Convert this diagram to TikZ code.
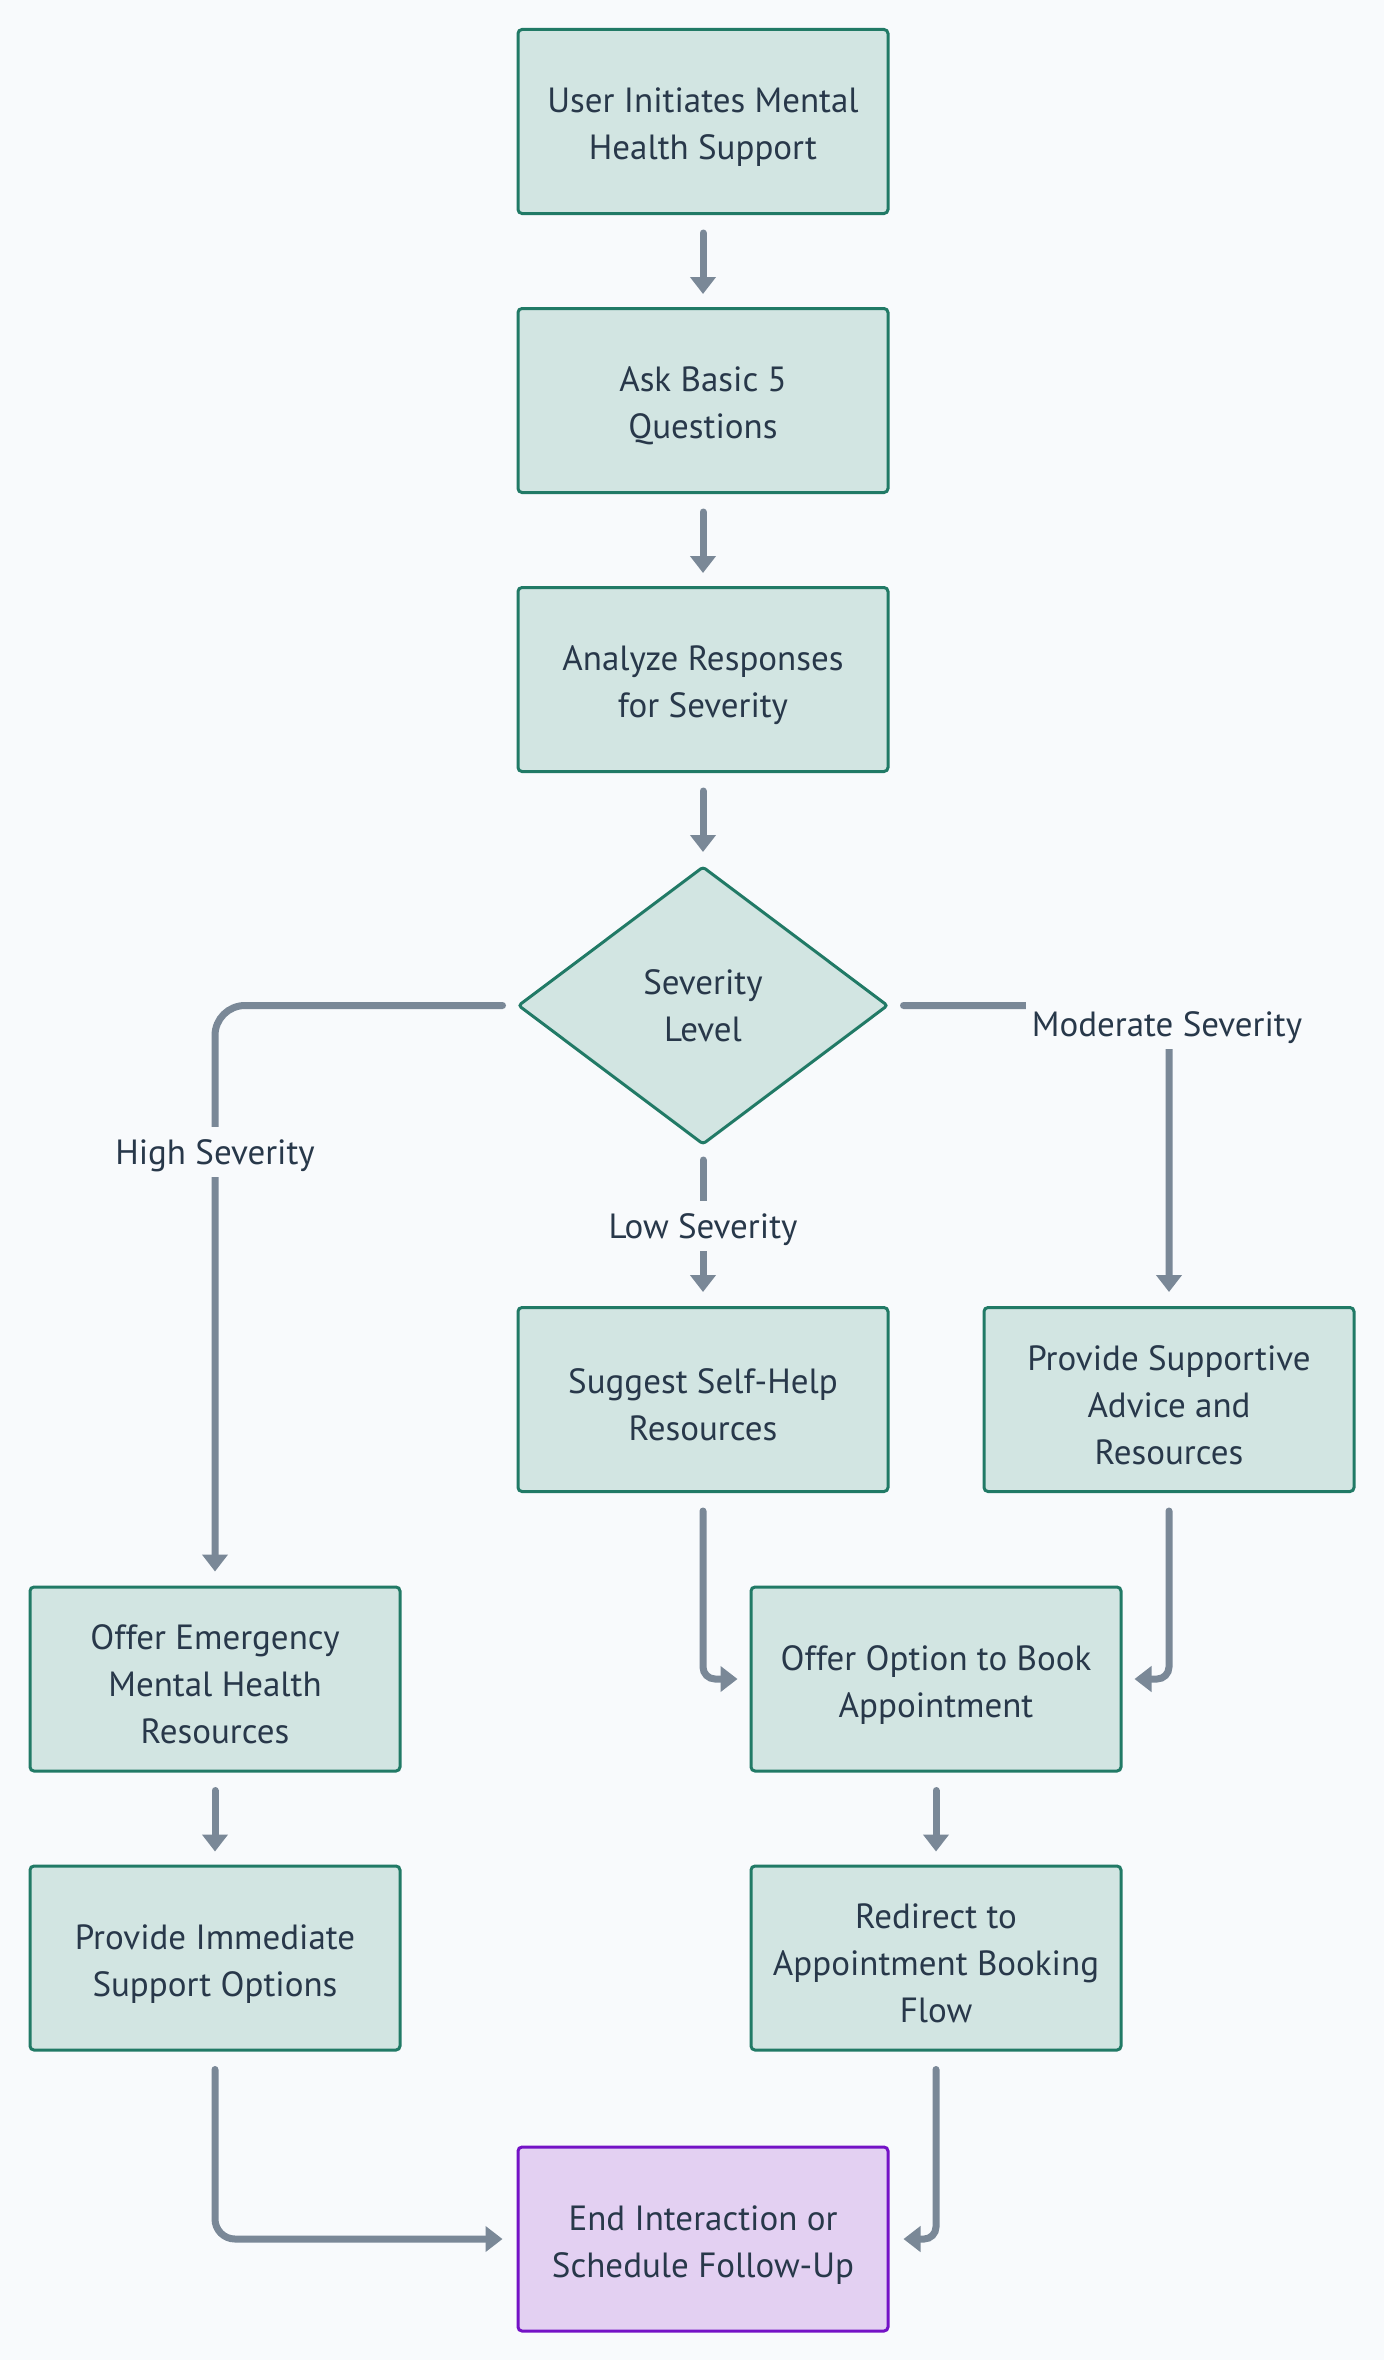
\documentclass[tikz,border=0pt]{standalone}
\usepackage{fontspec}
\setmainfont{PT Sans}
\usetikzlibrary{arrows.meta,shapes.geometric}
\definecolor{bgc}{HTML}{F8FAFC}
\definecolor{boxfill}{HTML}{D2E5E2}
\definecolor{boxline}{HTML}{217A66}
\definecolor{endfill}{HTML}{E3D0F2}
\definecolor{endline}{HTML}{7412C6}
\definecolor{arrowc}{HTML}{7A8897}
\definecolor{textc}{HTML}{28384A}
\newcommand\toprule{\rule{0pt}{36pt}}
\begin{document}
\begin{tikzpicture}[x=1pt,y=-1pt,
  txt/.style={text=textc, font=\fontsize{35}{47}\selectfont},
  box/.style={txt, rectangle, rounded corners=4pt,
    draw=boxline, fill=boxfill, line width=3pt,
    minimum width=370pt, minimum height=184pt, align=center, inner sep=0pt},
  endbox/.style={box, draw=endline, fill=endfill},
  decision/.style={txt, diamond, aspect=1.33,
    draw=boxline, fill=boxfill, line width=3pt,
    minimum width=370pt, minimum height=278pt, inner sep=0pt, align=center, rounded corners=3pt},
  conn/.style={draw=arrowc, line width=7pt, line cap=round,
    -{Triangle[length=17pt,width=25pt]}, rounded corners=12pt},
  lbl/.style={txt, fill=bgc, inner xsep=6pt, inner ysep=7.5pt, text height=30pt, text depth=5pt}
]
\fill[bgc] (0,0) rectangle (1384,2360);
\useasboundingbox (0,0) rectangle (1384,2360);

\node[box] (start) at (703,121.5) {\toprule User Initiates Mental\\Health Support};
\node[box] (ask) at (703,400.5) {\toprule Ask Basic 5\\Questions};
\node[box] (analyze) at (703,679.5) {\toprule Analyze Responses\\for Severity};
\node[decision] (sev) at (703,1005.5) {Severity\\Level};
\node[box] (self) at (703,1399.5) {\toprule Suggest Self-Help\\Resources};
\node[box] (supp) at (1169,1399.5) {\toprule Provide Supportive\\Advice and\\Resources};
\node[box] (emer) at (215,1679) {\toprule Offer Emergency\\Mental Health\\Resources};
\node[box] (book) at (936,1679) {\toprule Offer Option to Book\\Appointment};
\node[box] (immed) at (215,1958) {\toprule Provide Immediate\\Support Options};
\node[box] (redir) at (936,1958) {\toprule Redirect to\\Appointment Booking\\Flow};
\node[endbox] (endn) at (703,2239) {\toprule End Interaction or\\Schedule Follow-Up};

\draw[conn, shorten <=18pt, shorten >=13pt] (start) -- (ask);
\draw[conn, shorten <=18pt, shorten >=13pt] (ask) -- (analyze);
\draw[conn, shorten <=18pt, shorten >=13pt] (analyze) -- (sev);
\draw[conn, rounded corners=30pt, shorten <=14pt, shorten >=14pt] (sev.west) -| (emer.north);
\draw[conn, shorten <=14pt, shorten >=14pt] (sev.south) -- (self.north);
\draw[conn, rounded corners=30pt, shorten <=14pt, shorten >=14pt] (sev.east) -| (supp.north);
\draw[conn, shorten <=18pt, shorten >=12pt] (self.south) |- (book.west);
\draw[conn, shorten <=18pt, shorten >=12pt] (supp.south) |- (book.east);
\draw[conn, shorten <=18pt, shorten >=13pt] (emer) -- (immed);
\draw[conn, shorten <=18pt, shorten >=13pt] (book) -- (redir);
\draw[conn, rounded corners=20pt, shorten <=18pt, shorten >=14pt] (immed.south) |- (endn.west);
\draw[conn, shorten <=18pt, shorten >=14pt] (redir.south) |- (endn.east);

\node[lbl] (lhigh) at (215,1152) {High Severity};
\node[lbl] (llow) at (703,1226) {Low Severity};
\node[lbl] (lmod) at (1167,1024) {Moderate Severity};
\end{tikzpicture}
\end{document}
